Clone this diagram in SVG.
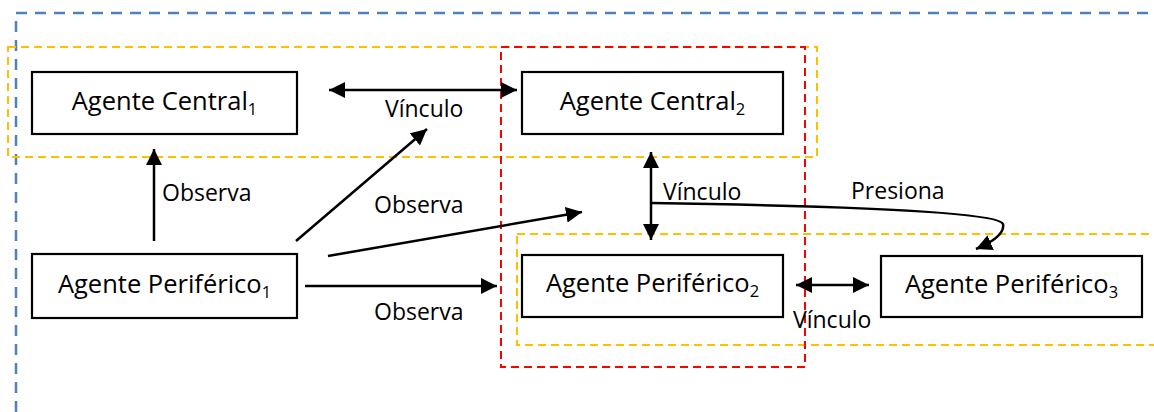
<svg xmlns="http://www.w3.org/2000/svg" width="1154" height="412" viewBox="0 0 1154 412">
  <style>
    .box { fill: #fff; stroke: #000; stroke-width: 2.2; }
    .node-text { font-family: "Open Sans", "Noto Sans", sans-serif; font-size: 25.5px; fill: #000; text-anchor: middle; }
    .label { font-family: "Open Sans", "Noto Sans", sans-serif; font-size: 23px; fill: #000; }
    .sub { font-size: 16.5px; }
    .edge { fill: none; stroke: #000; stroke-width: 2.5; }
    .zone-blue { fill: none; stroke: #4F81BD; stroke-width: 2.5; stroke-dasharray: 11 8; }
    .zone-yellow { fill: none; stroke: #FFC000; stroke-width: 2; stroke-dasharray: 8 5; }
    .zone-red { fill: none; stroke: #FF0000; stroke-width: 2; stroke-dasharray: 8 5; }
  </style>
  <defs>
    <marker id="arrow" viewBox="0 0 16 16" refX="16" refY="8" markerWidth="16" markerHeight="16" markerUnits="userSpaceOnUse" orient="auto-start-reverse">
      <path d="M0,0 L16,8 L0,16 z" fill="#000"/>
    </marker>
  </defs>

  <!-- grouping zones -->
  <g id="zones">
    <path class="zone-blue" d="M16,412 L16,13 L1154,13"/>
    <rect class="zone-yellow" x="8" y="47" width="809" height="110"/>
    <rect class="zone-yellow" x="517" y="234" width="700" height="111"/>
    <rect class="zone-red" x="501" y="47" width="304" height="320"/>
  </g>

  <!-- connectors -->
  <g id="connectors">
    <path class="edge" d="M329,90 L517,90" marker-start="url(#arrow)" marker-end="url(#arrow)"/>
    <path class="edge" d="M154,241 L154,149" marker-end="url(#arrow)"/>
    <path class="edge" d="M296,241 L427,129" marker-end="url(#arrow)"/>
    <path class="edge" d="M328,256 L582,212" marker-end="url(#arrow)"/>
    <path class="edge" d="M305,286 L497,286" marker-end="url(#arrow)"/>
    <path class="edge" d="M651,152 L651,240" marker-start="url(#arrow)" marker-end="url(#arrow)"/>
    <path class="edge" d="M651,203 C850,206 1000,212 1003,224 C1005,234 990,243 976,249" marker-end="url(#arrow)"/>
    <path class="edge" d="M796,285 L869,285" marker-start="url(#arrow)" marker-end="url(#arrow)"/>

    <text class="label" x="385" y="117">Vínculo</text>
    <text class="label" x="162" y="201">Observa</text>
    <text class="label" x="374" y="213">Observa</text>
    <text class="label" x="374" y="320">Observa</text>
    <text class="label" x="663" y="200">Vínculo</text>
    <text class="label" x="851" y="199">Presiona</text>
    <text class="label" x="793" y="328">Vínculo</text>
  </g>

  <!-- nodes -->
  <g id="central1">
    <rect class="box" x="32" y="72" width="265" height="62"/>
    <text class="node-text" x="164.5" y="110">Agente Central<tspan class="sub" dy="5">1</tspan></text>
  </g>
  <g id="central2">
    <rect class="box" x="522" y="72" width="261" height="62"/>
    <text class="node-text" x="652.5" y="110">Agente Central<tspan class="sub" dy="5">2</tspan></text>
  </g>
  <g id="periferico1">
    <rect class="box" x="32" y="254" width="265" height="64"/>
    <text class="node-text" x="164.5" y="293">Agente Periférico<tspan class="sub" dy="5">1</tspan></text>
  </g>
  <g id="periferico2">
    <rect class="box" x="522" y="255" width="261" height="62"/>
    <text class="node-text" x="652.5" y="292">Agente Periférico<tspan class="sub" dy="5">2</tspan></text>
  </g>
  <g id="periferico3">
    <rect class="box" x="881" y="256" width="261" height="61"/>
    <text class="node-text" x="1011.5" y="293">Agente Periférico<tspan class="sub" dy="5">3</tspan></text>
  </g>
</svg>
